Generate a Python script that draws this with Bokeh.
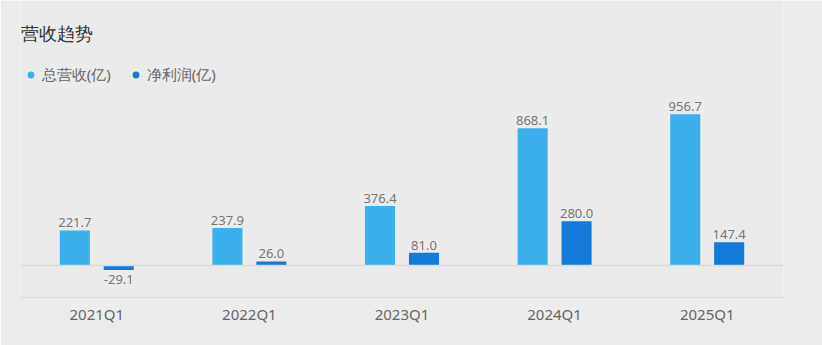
from bokeh.plotting import figure
from bokeh.models import (ColumnDataSource, FactorRange, Range1d, Legend, LegendItem,
                          Label, Span, LabelSet)
from bokeh.core.properties import value
from bokeh.transform import dodge
from bokeh.embed import file_html
from bokeh.resources import INLINE

quarters = ["2021Q1", "2022Q1", "2023Q1", "2024Q1", "2025Q1"]
revenue = [221.7, 237.9, 376.4, 868.1, 956.7]
profit = [-29.1, 26.0, 81.0, 280.0, 147.4]
series_names = ["总营收(亿)", "净利润(亿)"]
title_text = "营收趋势"

C_REV = "#3cb0ec"
C_PRO = "#137ad9"
BG = "#ebebeb"
BORDER_BG = "#ececec"
FONT = "Noto Sans"

src = ColumnDataSource(dict(
    q=quarters, rev=revenue, pro=profit,
    rev_t=[f"{v:.1f}" for v in revenue]))
pos = [i for i, v in enumerate(profit) if v >= 0]
neg = [i for i, v in enumerate(profit) if v < 0]
src_pos = ColumnDataSource(dict(q=[quarters[i] for i in pos], pro=[profit[i] for i in pos],
                                t=[f"{profit[i]:.1f}" for i in pos]))
src_neg = ColumnDataSource(dict(q=[quarters[i] for i in neg], pro=[profit[i] for i in neg],
                                t=[f"{profit[i]:.1f}" for i in neg]))

p = figure(x_range=FactorRange(*quarters, range_padding=0), y_range=Range1d(-202.5, 1677),
           width=822, height=345, output_backend="svg", toolbar_location=None,
           min_border_left=20, min_border_right=39, min_border_top=0, min_border_bottom=48)
p.background_fill_color = BG
p.border_fill_color = BORDER_BG
p.outline_line_color = None
p.grid.grid_line_color = None
p.yaxis.visible = False

ax = p.xaxis[0]
ax.axis_line_color = "#d9d9d9"
ax.major_tick_line_color = None
ax.minor_tick_line_color = None
ax.major_label_text_color = "#666666"
ax.major_label_text_font_size = "15px"
ax.major_label_text_font = FONT
ax.major_label_standoff = 0

p.add_layout(Span(location=0, dimension="width", line_color="#dcdcdc", line_width=1.5))

off = 0.144
w = 0.197
p.vbar(x=dodge("q", -off, range=p.x_range), top="rev", bottom=0, width=w, source=src,
       fill_color=C_REV, line_color=None)
p.vbar(x=dodge("q", off, range=p.x_range), top="pro", bottom=0, width=w, source=src,
       fill_color=C_PRO, line_color=None)

lab_kw = dict(text_align="center", text_font_size=value("13px"), text_color="#777777",
              text_font=value(FONT))
p.add_layout(LabelSet(x=dodge("q", -off, range=p.x_range), y="rev", text="rev_t", source=src,
                      y_offset=3, text_baseline="bottom", **lab_kw))
p.add_layout(LabelSet(x=dodge("q", off, range=p.x_range), y="pro", text="t", source=src_pos,
                      y_offset=3, text_baseline="bottom", **lab_kw))
p.add_layout(LabelSet(x=dodge("q", off, range=p.x_range), y="pro", text="t", source=src_neg,
                      y_offset=-5, text_baseline="top", **lab_kw))

# legend (hidden points: NaN y, only the legend glyph is drawn)
nan = float("nan")
hidden = ColumnDataSource(dict(x=quarters, y=[nan] * len(quarters)))
r1 = p.scatter("x", "y", source=hidden, marker="circle", fill_color=C_REV, line_color=None)
r2 = p.scatter("x", "y", source=hidden, marker="circle", fill_color=C_PRO, line_color=None)
leg = Legend(items=[LegendItem(label=series_names[0], renderers=[r1], index=0),
                    LegendItem(label=series_names[1], renderers=[r2], index=0)],
             orientation="horizontal", location=(1.8, 212.5),
             glyph_width=17, glyph_height=17, label_standoff=3, spacing=16,
             padding=0, margin=0, background_fill_alpha=0, border_line_color=None,
             label_text_font=FONT, label_text_font_size="15px", label_text_color="#666666")
p.add_layout(leg, "center")

p.add_layout(Label(x=0, y=265, x_units="screen", y_units="screen", text=title_text,
                   text_font=FONT, text_font_size="18px", text_color="#333333",
                   text_baseline="middle", text_align="left"))

open("out.html", "w").write(file_html(p, INLINE))
